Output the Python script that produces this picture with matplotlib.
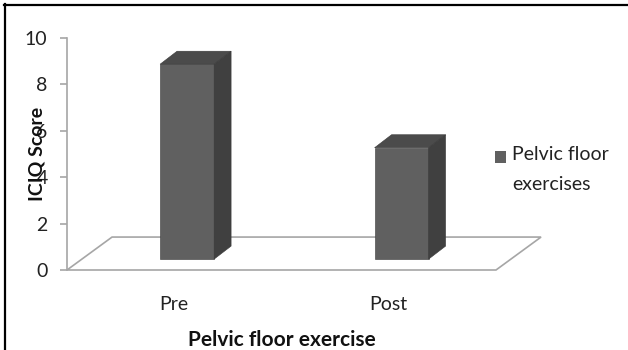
# -*- coding: utf-8 -*-
"""ICIQ score before and after pelvic floor exercise, drawn as a 3-D style column chart."""
import matplotlib; matplotlib.use("Agg")
import matplotlib.pyplot as plt
from matplotlib.patches import Polygon, Rectangle
from matplotlib.lines import Line2D

plt.rcParams["font.family"] = ["Lato", "DejaVu Sans"]

categories = ["Pre", "Post"]
scores = [8.4, 4.8]
series_name = "Pelvic floor\nexercises"
y_ticks = [0, 2, 4, 6, 8, 10]

FRONT, TOP, SIDE = "#606060", "#4b4b4b", "#404040"
GRID = "#a6a6a6"
W, H = 628, 350

# floor depth and bar geometry, in data units
FLOOR_DX, FLOOR_DY = 0.21, 1.42
BAR_W = 0.252
BAR_OX, BAR_OY = 0.06, 0.47      # front face sits part-way into the floor
BAR_DX, BAR_DY = 0.079, 0.56

fig = plt.figure(figsize=(W / 100, H / 100), dpi=100)
ax = fig.add_axes([67 / W, (H - 270) / H, 429 / W, 232 / H])
ax.set_xlim(-0.5, len(categories) - 0.5)
ax.set_ylim(0, 10)

# floor parallelogram
x0, x1 = -0.5, len(categories) - 0.5
floor = Polygon([(x0, 0), (x1, 0), (x1 + FLOOR_DX, FLOOR_DY), (x0 + FLOOR_DX, FLOOR_DY)],
                closed=True, facecolor="white", edgecolor=GRID, lw=1.2,
                clip_on=False, zorder=1)
ax.add_patch(floor)

for i, v in enumerate(scores):
    left = i - BAR_W / 2 + BAR_OX
    right = left + BAR_W
    b, t = BAR_OY, BAR_OY + v
    faces = [
        ([(left, b), (right, b), (right, t), (left, t)], FRONT),
        ([(left, t), (right, t), (right + BAR_DX, t + BAR_DY), (left + BAR_DX, t + BAR_DY)], TOP),
        ([(right, b), (right + BAR_DX, b + BAR_DY), (right + BAR_DX, t + BAR_DY), (right, t)], SIDE),
    ]
    for pts, c in faces:
        ax.add_patch(Polygon(pts, closed=True, facecolor=c, edgecolor="#3a3a3a",
                             lw=0.4, clip_on=False, zorder=3))

for s in ["top", "right", "bottom"]:
    ax.spines[s].set_visible(False)
ax.spines["left"].set_color(GRID)
ax.spines["left"].set_linewidth(1.2)

ax.set_yticks(y_ticks)
ax.tick_params(axis="y", length=5, width=1.2, color=GRID, pad=9,
               labelsize=14, labelcolor="#222222")
ax.set_xticks(range(len(categories)), categories)
ax.tick_params(axis="x", length=0, pad=19, labelsize=14, labelcolor="#222222")

# the axis title sits over the tick labels, as in the original layout
ax.set_ylabel("ICIQ Score", fontsize=14, fontweight="bold", color="#111111")
ax.yaxis.set_label_coords(-0.05, 0.5)
ax.set_xlabel("Pelvic floor exercise", fontsize=15, fontweight="bold",
              color="#111111", labelpad=12)

# legend
fig.add_artist(Rectangle((495 / W, (H - 163) / H), 11 / W, 12 / H,
                         transform=fig.transFigure, facecolor=FRONT, edgecolor="none"))
fig.text(512 / W, (H - 146) / H, series_name, fontsize=14, color="#222222",
         va="top", ha="left", linespacing=1.95, transform=fig.transFigure)

# outer frame (top and left edges)
fig.add_artist(Line2D([4 / W, 1], [(H - 5) / H] * 2, color="black", lw=1.6,
                      transform=fig.transFigure))
fig.add_artist(Line2D([5 / W] * 2, [0, (H - 4) / H], color="black", lw=1.6,
                      transform=fig.transFigure))

fig.savefig("out.png", dpi=100)
